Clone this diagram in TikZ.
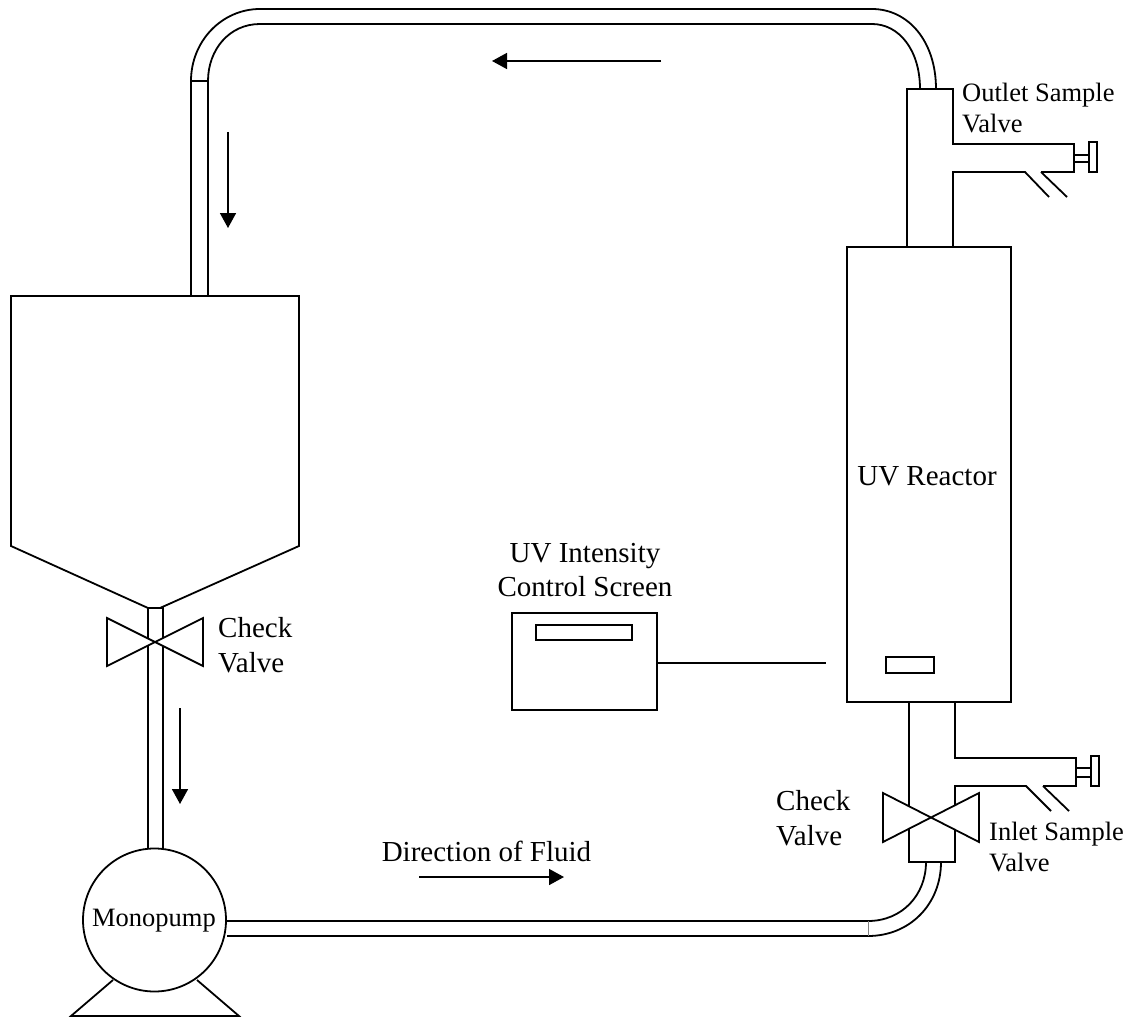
\documentclass[tikz,border=0pt]{standalone}
\usepackage{fontspec}
\setmainfont{Liberation Serif}
\usetikzlibrary{arrows.meta}
\tikzset{
  x=1pt,y=-1pt,
  line/.style={draw=black,line width=1.8pt,line join=miter},
  flow/.style={draw=black,line width=1.6pt,-{Triangle[length=15pt,width=16pt]}},
  bowtie/.style={line,fill=white},
  lab/.style={font=\fontsize{26.5}{31}\selectfont,align=left,inner sep=0pt},
  biglab/.style={font=\fontsize{29}{34.5}\selectfont,align=center,inner sep=0pt},
}
\begin{document}
\begin{tikzpicture}
\useasboundingbox (0,0) rectangle (1134,1019);
% tank
\draw[line] (148,608) -- (11,546) -- (11,296) -- (299,296) -- (299,546) -- (160,608);
% pipe tank to pump
\draw[line] (148,848) -- (148,608) -- (163,608) -- (163,848);
\draw[bowtie] (107,618) -- (203,666) -- (203,618) -- (107,666) -- cycle;
% top pipe
\draw[line] (191,296) -- (191,81) -- (208,81) -- (208,296);
\draw[line] (191,81) .. controls (191,41) and (222,9) .. (260,9) -- (872,9)
   .. controls (908,9) and (936,41) .. (936,89);
\draw[line] (208,81) .. controls (208,50) and (229,24) .. (260,24) -- (872,24)
   .. controls (899,24) and (920,50) .. (920,89);
% outlet valve
\draw[line] (953,247) -- (953,172) -- (1025,172) -- (1049,197);
\draw[line] (1041,172) -- (1067,197);
\draw[line] (1041,172) -- (1074,172) -- (1074,144) -- (953,144) -- (953,89) -- (907,89) -- (907,247);
\draw[line] (1074,155) -- (1089,155) (1074,162) -- (1089,162);
\draw[line] (1089,142) rectangle (1097,172);
% reactor
\node[line,minimum width=164pt,minimum height=455pt,inner sep=0pt] (reactor) at (929,474.5) {};
\draw[line] (886,657) rectangle (934,673);
% inlet valve
\draw[line] (909,702) -- (909,862) -- (955,862) -- (955,786) -- (1026,786) -- (1051,811);
\draw[line] (1043,786) -- (1069,811);
\draw[line] (1043,786) -- (1076,786) -- (1076,758) -- (955,758) -- (955,702);
\draw[line] (1076,768) -- (1091,768) (1076,777) -- (1091,777);
\draw[line] (1091,756) rectangle (1099,786);
\draw[bowtie] (883,793) -- (979,842) -- (979,793) -- (883,842) -- cycle;
% bottom pipe
\draw[line] (227,921) -- (868,921) .. controls (902,921) and (926,895) .. (926,862);
\draw[line] (227,936) -- (868,936) .. controls (910,936) and (941,904) .. (941,862);
\draw[draw=gray,line width=0.8pt] (868,921) -- (868,936);
% pump
\draw[line] (113,980) -- (71,1016) -- (239,1016) -- (197,980);
\node[line,circle,fill=white,minimum size=143pt,inner sep=0pt] (pump) at (154.5,920) {};
\node[lab] (pumplab) at (154,921) {Monopump};
% screen
\node[line,minimum width=145pt,minimum height=97pt,inner sep=0pt] (screen) at (584.5,661.5) {};
\draw[line] (536,625) rectangle (632,640);
\coordinate (wireend) at (826,663);
\draw[line] (screen.east |- wireend) -- (wireend);
% arrows
\draw[flow] (661,61) -- (492,61);
\draw[flow] (228,132) -- (228,228);
\draw[flow] (180,708) -- (180,804);
\draw[flow] (419,877) -- (564,877);
% labels
\node[lab,anchor=west] (outlab) at (962,108) {Outlet Sample\\Valve};
\node[lab,anchor=west] (inlab) at (989,847) {Inlet Sample\\Valve};
\node[biglab] (uvlab) at (927,476) {UV Reactor};
\node[biglab] (ctlab) at (585,570) {UV Intensity\\Control Screen};
\node[biglab,align=left,anchor=west] (cv1) at (218,645) {Check\\Valve};
\node[biglab,align=left,anchor=west] (cv2) at (776,818) {Check\\Valve};
\node[biglab] (dirlab) at (486.5,851) {Direction of Fluid};
\end{tikzpicture}
\end{document}
